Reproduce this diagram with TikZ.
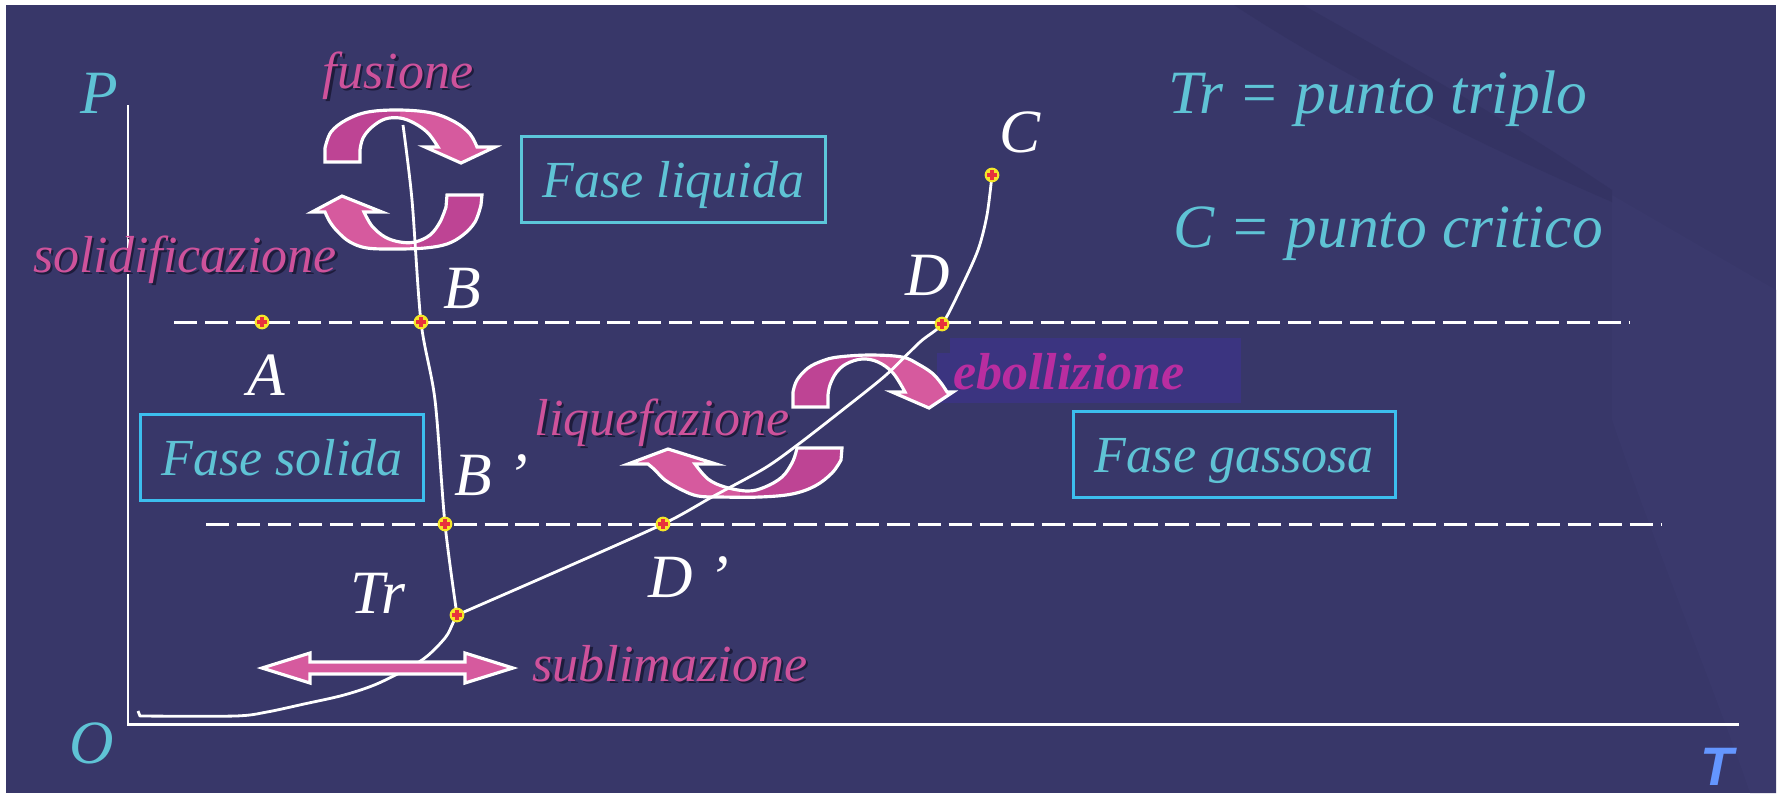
\documentclass[tikz,border=0pt]{standalone}
\usepackage{fontspec}
\setmainfont{Liberation Serif}
\newfontfamily\sansbf{Liberation Sans}
\definecolor{bg}{RGB}{56,55,105}
\definecolor{bgdark}{RGB}{52,51,99}
\definecolor{bglight}{RGB}{58,57,108}
\definecolor{pinkt}{RGB}{206,82,155}
\definecolor{pinkl}{RGB}{214,90,158}
\definecolor{pinkd}{RGB}{190,68,148}
\definecolor{ebol}{RGB}{185,45,160}
\definecolor{ebolbg}{RGB}{59,52,128}
\definecolor{cyant}{RGB}{95,195,213}
\definecolor{boxa}{RGB}{92,198,218}
\definecolor{boxb}{RGB}{60,190,238}
\definecolor{yellowc}{RGB}{245,230,40}
\definecolor{redc}{RGB}{232,50,60}
\definecolor{tblue}{RGB}{100,150,255}
\definecolor{shadowc}{RGB}{30,28,60}
\newcommand{\shtext}[1]{\makebox[0pt][l]{\kern0.7pt\raisebox{-0.7pt}{\textcolor{shadowc}{#1}}}#1}
\def\arrF{(325,162) -- plot[smooth,tension=0.6] coordinates {(325,148) (331,132) (346,120) (368,112) (400,110) (432,113) (455,122) (470,134) (477,147)} -- (495,147) -- (461,163) -- (425,147) -- plot[smooth,tension=0.6] coordinates {(438,147) (428,133) (414,123) (400,118) (385,119) (372,127) (363,138) (360,150)} -- (360,162) -- cycle}
\def\arrS{(447,195) -- (482,195) -- plot[smooth,tension=0.6] coordinates {(481,205) (475,222) (463,235) (447,244) (425,248) (395,249) (367,248) (350,242) (338,232) (330,222) (325,212)} -- (312,212) -- (342,196) -- (382,212) -- plot[smooth,tension=0.6] coordinates {(364,212) (372,226) (385,237) (400,242) (415,242) (430,235) (440,222) (446,207)} -- cycle}
\def\arrE{(793,407) -- plot[smooth,tension=0.6] coordinates {(793,392) (797,380) (808,368) (822,361) (838,357) (870,355) (902,357) (918,364) (932,373) (941,383) (947,392)} -- (953,392) -- (929,408) -- (892,392) -- plot[smooth,tension=0.6] coordinates {(905,392) (893,373) (878,362) (862,359) (846,364) (836,373) (830,385) (828,395)} -- (828,407) -- cycle}
\def\arrL{(797,448) -- (842,448) -- plot[smooth,tension=0.6] coordinates {(841,460) (832,473) (815,486) (792,494) (760,497) (720,497) (698,496) (682,490) (665,480) (655,470) (648,464)} -- (628,464) -- (668,449) -- (716,464) -- plot[smooth,tension=0.6] coordinates {(695,464) (708,479) (725,487) (748,491) (765,487) (782,477) (792,463) (796,452)} -- cycle}
\def\arrSub{(262,668) -- (310,653) -- (310,662) -- (465,662) -- (465,653) -- (513,668) -- (465,683) -- (465,674) -- (310,674) -- (310,683) -- cycle}
\begin{document}
\begin{tikzpicture}[x=0.01cm,y=-0.01cm,
  axis/.style={white, line width=0.85pt},
  curve/.style={white, line width=0.8pt, line join=round},
  dashline/.style={white, line width=0.85pt, dash pattern=on 6.6pt off 2.2pt},
  arrout/.style={white, line width=0.9pt, line join=miter},
  marker/.style={circle, fill=yellowc, inner sep=0pt, minimum size=4.2pt,
    path picture={\fill[redc] ([xshift=-1.4pt,yshift=-0.5pt]path picture bounding box.center) rectangle ([xshift=1.4pt,yshift=0.5pt]path picture bounding box.center);
      \fill[redc] ([xshift=-0.5pt,yshift=-1.4pt]path picture bounding box.center) rectangle ([xshift=0.5pt,yshift=1.4pt]path picture bounding box.center);}},
  lbl/.style={inner sep=0pt, anchor=base, font=\fontsize{14.8}{18}\selectfont\itshape},
  proc/.style={lbl, text=pinkt},
  letter/.style={inner sep=0pt, anchor=base, text=white, font=\fontsize{17.5}{21}\selectfont\itshape},
  legendtxt/.style={letter, text=cyant},
  phasebox/.style={draw=boxb, line width=0.85pt, text=cyant, font=\fontsize{14.8}{18}\selectfont\itshape,
    minimum height=24.2pt, text height=10pt, text depth=0pt, inner sep=0pt}
]
\useasboundingbox (0,0) rectangle (1779,793);
\fill[white] (0,0) rectangle (1779,793);
\fill[bg] (6,5) rectangle (1776,793);
% background decoration
\fill[bglight] (1612,195) -- (1612,420) .. controls (1660,560) and (1715,690) .. (1750,793) -- (1776,793) -- (1776,290) -- cycle;
\fill[bgdark] (1234,5) -- (1303,5) .. controls (1400,60) and (1500,115) .. (1612,190) -- (1612,202) .. controls (1480,145) and (1340,75) .. (1234,5) -- cycle;
% ebollizione highlight
\fill[ebolbg] (950,338) rectangle (1241,403);
\fill[ebolbg] (937,353) rectangle (950,403);
% curved arrows
\fill[pinkl] \arrF;
\begin{scope}\clip (0,0) rectangle (400,300); \fill[pinkd] \arrF; \end{scope}
\draw[arrout] \arrF;
\fill[pinkl] \arrS;
\begin{scope}\clip (412,0) rectangle (600,300); \fill[pinkd] \arrS; \end{scope}
\draw[arrout] \arrS;
\fill[pinkl] \arrE;
\begin{scope}\clip (0,300) rectangle (866,450); \fill[pinkd] \arrE; \end{scope}
\draw[arrout] \arrE;
\fill[pinkl] \arrL;
\begin{scope}\clip (740,400) rectangle (900,520); \fill[pinkd] \arrL; \end{scope}
\draw[arrout] \arrL;
% coordinates
\coordinate (pA) at (262,322);
\coordinate (pB) at (421,322);
\coordinate (pBp) at (445,524);
\coordinate (pDp) at (663,524);
\coordinate (pTr) at (457,615);
\coordinate (pD) at (942,324);
\coordinate (pC) at (992,175);
\coordinate (ax0) at (128,724);
\coordinate (axP) at (128,105);
\coordinate (axT) at (1739,724);
\coordinate (d1s) at (174,322);
\coordinate (d1e) at (1630,322);
\coordinate (d2s) at (206,524);
\coordinate (d2e) at (1662,524);
\coordinate (mtop) at (403,125);
\coordinate (sstart) at (138,711);
% dashed lines
\draw[dashline] (d1s) -- (d1e);
\draw[dashline] (d2s) -- (d2e);
% axes
\draw[axis] (axP) -- (ax0) -- (axT);
% curves
\draw[curve] plot[smooth,tension=0.5] coordinates {(mtop) (412,200) (pB) (435,400) (pBp) (pTr)};
\draw[curve] (sstart) -- plot[smooth,tension=0.5] coordinates {(140,716) (235,716) (267,712) (304,704) (344,695) (379,683) (422,660) (445,638) (453,623) (pTr)};
\draw[curve] plot[smooth,tension=0.5] coordinates {(pTr) (560,570) (pDp) (712,497) (765,468) (800,443) (845,408) (886,375) (920,342) (pD) (960,290) (978,250) (987,215) (pC)};
% sublimation arrow
\fill[pinkl] \arrSub;
\draw[arrout] \arrSub;
% markers
\node[marker] (mA) at (pA) {};
\node[marker] (mB) at (pB) {};
\node[marker] (mBp) at (pBp) {};
\node[marker] (mDp) at (pDp) {};
\node[marker] (mTr) at (pTr) {};
\node[marker] (mD) at (pD) {};
\node[marker] (mC) at (pC) {};
% phase boxes
\node[phasebox, draw=boxa, minimum width=86.2pt] (fl) at (673.5,179.5) {Fase liquida};
\node[phasebox, minimum width=80.2pt] (fs) at (282,457.5) {Fase solida};
\node[phasebox, minimum width=91.3pt] (fg) at (1234.5,454.5) {Fase gassosa};
% process labels
\node[proc] (tfus) at (398,88) {\shtext{fusione}};
\node[proc] (tsol) at (185,272) {\shtext{solidificazione}};
\node[proc] (tliq) at (662,435) {\shtext{liquefazione}};
\node[proc] (tsub) at (670,681) {\shtext{sublimazione}};
\node[lbl, text=ebol, font=\fontsize{14.8}{18}\selectfont\itshape\bfseries] (tebo) at (1069,389) {ebollizione};
% letters
\node[legendtxt] (tP) at (99,113) {P};
\node[legendtxt] (tO) at (92,763) {O};
\node[inner sep=0pt, anchor=base, text=tblue, font={\fontsize{15.4}{18}\sansbf\bfseries\itshape}] (tT) at (1717,785) {T};
\node[letter] (lA) at (266,395) {A};
\node[letter] (lB) at (462,308) {B};
\node[letter] (lBp) at (491,495) {B ’};
\node[letter] (lDp) at (689,597) {D ’};
\node[letter] (lTr) at (378,613) {Tr};
\node[letter] (lD) at (928,295) {D};
\node[letter] (lC) at (1020,152) {C};
\node[legendtxt] (leg1) at (1378,113) {Tr = punto triplo};
\node[legendtxt] (leg2) at (1388,247) {C = punto critico};
\end{tikzpicture}
\end{document}
